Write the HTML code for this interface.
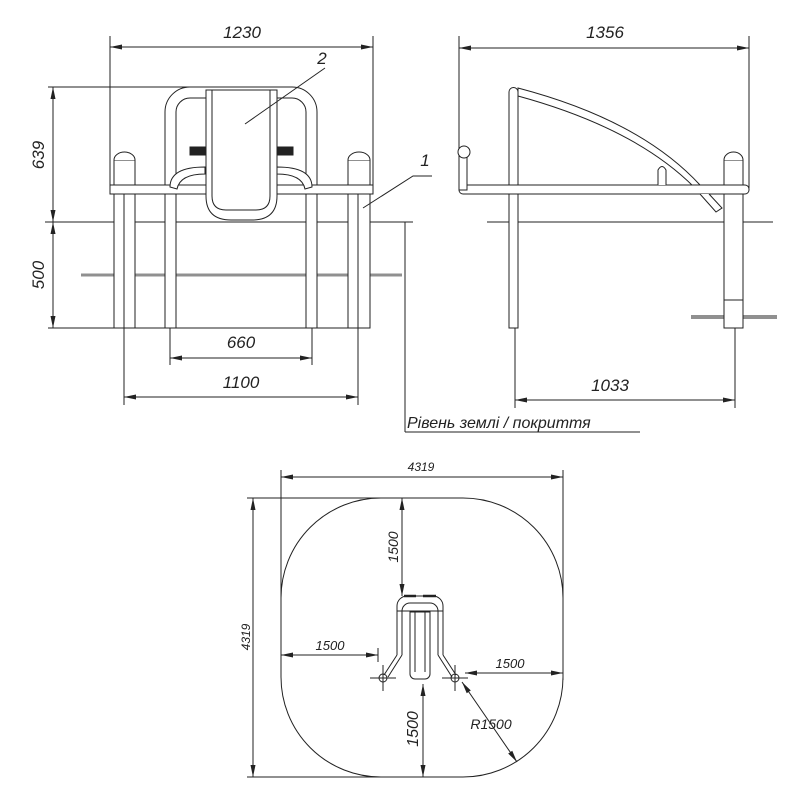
<!DOCTYPE html>
<html><head><meta charset="utf-8"><style>html,body{margin:0;background:#fff}svg{display:block}text{font-family:"Liberation Sans",sans-serif;font-style:italic;fill:#222}</style></head><body>
<svg width="800" height="800" viewBox="0 0 800 800" xmlns="http://www.w3.org/2000/svg">
<defs><marker id="a" viewBox="0 0 12 6" refX="12" refY="3" markerWidth="12" markerHeight="6" orient="auto-start-reverse"><path d="M0,0.5L12,3L0,5.5z" fill="#222"/></marker></defs>
<g stroke="#222" stroke-width="1" fill="none">
<!-- FRONT VIEW -->
<line x1="110" y1="36" x2="110" y2="190"/><line x1="373" y1="36" x2="373" y2="190"/>
<line x1="110" y1="47" x2="373" y2="47" marker-start="url(#a)" marker-end="url(#a)"/>
<line x1="48" y1="87" x2="210" y2="87"/>
<line x1="45" y1="222" x2="413" y2="222"/>
<line x1="48" y1="328" x2="360" y2="328"/>
<line x1="53" y1="87" x2="53" y2="222" marker-start="url(#a)" marker-end="url(#a)"/>
<line x1="53" y1="222" x2="53" y2="328" marker-start="url(#a)" marker-end="url(#a)"/>
<line x1="81" y1="275" x2="402" y2="275" stroke-width="2.5"/>
<line x1="81" y1="275" x2="402" y2="275" stroke="#fff" stroke-width="1"/>
<g fill="#fff">
<path d="M165,190V112a25,25 0 0 1 25,-25H292a25,25 0 0 1 25,25V190H306V112a14,14 0 0 0 -14,-14H190a14,14 0 0 0 -14,14V190z"/>
<rect x="114" y="160" width="21" height="168"/><path d="M114,160a10.5,8 0 0 1 21,0"/>
<rect x="348" y="160" width="22" height="168"/><path d="M348,160a11,8 0 0 1 22,0"/>
<rect x="165" y="185" width="11" height="143"/><rect x="306" y="185" width="11" height="143"/>
<rect x="110" y="185" width="263" height="9"/>
<path d="M170,187q0,-20 35,-20v7q-25,0 -28,15z"/><path d="M312,187q0,-20 -35,-20v7q25,0 28,15z"/>
<path d="M206,90H277V196q0,24 -25,24H231q-25,0 -25,-24z"/>
<path d="M212,90H270V196q0,14 -14,14H226q-14,0 -14,-14z"/>
</g>
<rect x="190" y="147" width="15" height="8" fill="#222"/><rect x="278" y="147" width="15" height="8" fill="#222"/>
<line x1="124" y1="194" x2="124" y2="405"/><line x1="358" y1="194" x2="358" y2="405"/>
<line x1="170" y1="328" x2="170" y2="365"/><line x1="312" y1="328" x2="312" y2="365"/>
<line x1="170" y1="358" x2="312" y2="358" marker-start="url(#a)" marker-end="url(#a)"/>
<line x1="124" y1="397" x2="358" y2="397" marker-start="url(#a)" marker-end="url(#a)"/>
<line x1="325" y1="68" x2="245" y2="124"/>
<polyline points="432,176 413,176 363,208"/>
<line x1="405" y1="222" x2="405" y2="432"/>
<line x1="405" y1="432" x2="640" y2="432"/>
<!-- SIDE VIEW -->
<line x1="459" y1="36" x2="459" y2="190"/><line x1="749" y1="36" x2="749" y2="188"/>
<line x1="459" y1="48" x2="749" y2="48" marker-start="url(#a)" marker-end="url(#a)"/>
<line x1="487" y1="222" x2="773" y2="222"/>
<g fill="#fff">
<path d="M518,88Q640,120 700,185L694,187Q635,128 518,96z"/>
<path d="M509,328V92a4.5,4.5 0 0 1 9,0V328z"/>
<rect x="724" y="160" width="19" height="168"/><path d="M724,160a9.5,8 0 0 1 19,0"/>
<rect x="459" y="185" width="290" height="9" rx="4"/>
<rect x="459" y="155" width="8" height="35"/>
<circle cx="464" cy="152" r="6"/>
<path d="M658,185V170q4,-7 8,0V185"/>
<path d="M700,194L716,212L722,208L709,194"/>
</g>
<line x1="691" y1="317" x2="777" y2="317" stroke-width="3"/>
<line x1="691" y1="317" x2="777" y2="317" stroke="#fff" stroke-width="1"/>
<rect x="724" y="300" width="19" height="28" fill="#fff"/>
<line x1="515" y1="328" x2="515" y2="408"/><line x1="735" y1="328" x2="735" y2="408"/>
<line x1="515" y1="400" x2="735" y2="400" marker-start="url(#a)" marker-end="url(#a)"/>
<!-- PLAN -->
<line x1="281" y1="470" x2="281" y2="660"/><line x1="563" y1="470" x2="563" y2="680"/>
<line x1="281" y1="477" x2="563" y2="477" marker-start="url(#a)" marker-end="url(#a)"/>
<line x1="247" y1="498" x2="410" y2="498"/><line x1="247" y1="777" x2="430" y2="777"/>
<line x1="253" y1="498" x2="253" y2="777" marker-start="url(#a)" marker-end="url(#a)"/>
<rect x="281" y="498" width="282" height="279" rx="100" ry="100"/>
<path d="M397,655V606a10,10 0 0 1 10,-10H433a10,10 0 0 1 10,10V655"/>
<path d="M402,655V611a8,8 0 0 1 8,-8H430a8,8 0 0 1 8,8V655"/>
<line x1="397" y1="611" x2="443" y2="611"/>
<path d="M410,612V674a5,5 0 0 0 5,5H425a5,5 0 0 0 5,-5V612z"/>
<path d="M415,612V672"/><path d="M425,612V672"/>
<path d="M397,655L384,675M402,655L388,677M443,655L456,675M438,655L452,677"/>
<line x1="404" y1="596" x2="416" y2="596" stroke-width="2.5"/><line x1="423" y1="596" x2="436" y2="596" stroke-width="2.5"/>
<circle cx="383" cy="678" r="4"/><circle cx="455" cy="678" r="4"/>
<path d="M370,678H396M383,665V691M442,678H468M455,665V691"/>
<line x1="402" y1="498" x2="402" y2="596" marker-start="url(#a)" marker-end="url(#a)"/>
<line x1="378" y1="648" x2="378" y2="662"/>
<line x1="281" y1="655" x2="378" y2="655" marker-start="url(#a)" marker-end="url(#a)"/>
<line x1="465" y1="673" x2="563" y2="673" marker-start="url(#a)" marker-end="url(#a)"/>
<line x1="423" y1="684" x2="423" y2="777" marker-start="url(#a)" marker-end="url(#a)"/>
<line x1="462" y1="682" x2="517" y2="762" marker-start="url(#a)" marker-end="url(#a)"/>
</g>
<g font-size="17">
<text x="242" y="38" text-anchor="middle">1230</text>
<text x="322" y="64" text-anchor="middle">2</text>
<text x="425" y="166" text-anchor="middle">1</text>
<text transform="translate(44,155) rotate(-90)" text-anchor="middle">639</text>
<text transform="translate(44,275) rotate(-90)" text-anchor="middle">500</text>
<text x="241" y="348" text-anchor="middle">660</text>
<text x="241" y="388" text-anchor="middle">1100</text>
<text x="605" y="38" text-anchor="middle">1356</text>
<text x="610" y="391" text-anchor="middle">1033</text>
<text x="407" y="428" font-size="16">Рівень землі / покриття</text>
</g>
<g font-size="12">
<text x="421" y="471" text-anchor="middle">4319</text>
<text transform="translate(250,637) rotate(-90)" text-anchor="middle">4319</text>
<text transform="translate(398,547) rotate(-90)" text-anchor="middle" font-size="14">1500</text>
<text x="330" y="650" text-anchor="middle" font-size="13">1500</text>
<text x="510" y="668" text-anchor="middle" font-size="13">1500</text>
<text transform="translate(418,729) rotate(-90)" text-anchor="middle" font-size="16">1500</text>
<text x="491" y="729" text-anchor="middle" font-size="14">R1500</text>
</g>
</svg>
</body></html>
